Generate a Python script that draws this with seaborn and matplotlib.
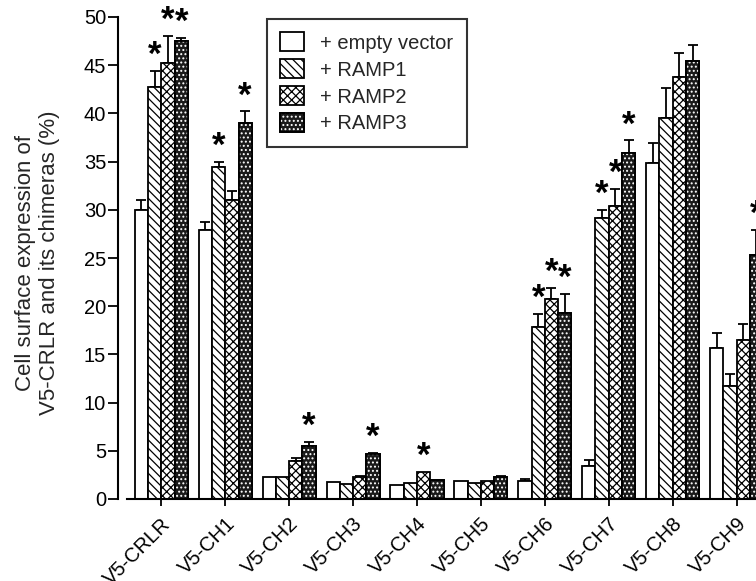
import numpy as np
import pandas as pd
import matplotlib
matplotlib.use("Agg")
import matplotlib.pyplot as plt
from matplotlib.patches import Patch, Rectangle
from matplotlib.legend_handler import HandlerTuple
import seaborn as sns

categories = ["V5-CRLR", "V5-CH1", "V5-CH2", "V5-CH3", "V5-CH4",
              "V5-CH5", "V5-CH6", "V5-CH7", "V5-CH8", "V5-CH9"]
series = ["+ empty vector", "+ RAMP1", "+ RAMP2", "+ RAMP3"]

empty_vals = [30.0, 27.9, 2.3, 1.8, 1.45, 1.9, 1.9, 3.4, 34.9, 15.7]
empty_err = [1.0, 0.8, 0.0, 0.0, 0.0, 0.0, 0.15, 0.6, 2.0, 1.55]
ramp1_vals = [42.7, 34.4, 2.3, 1.6, 1.7, 1.7, 17.8, 29.2, 39.5, 11.7]
ramp1_err = [1.7, 0.6, 0.0, 0.0, 0.0, 0.0, 1.4, 0.8, 3.1, 1.3]
ramp2_vals = [45.2, 31.0, 3.9, 2.3, 2.8, 1.9, 20.7, 30.4, 43.8, 16.5]
ramp2_err = [2.8, 1.0, 0.35, 0.1, 0.0, 0.0, 1.2, 1.8, 2.5, 1.7]
ramp3_vals = [47.5, 39.0, 5.5, 4.7, 2.0, 2.3, 19.3, 35.9, 45.4, 25.3]
ramp3_err = [0.3, 1.2, 0.4, 0.1, 0.0, 0.1, 2.0, 1.3, 1.7, 2.6]

# significance marks (1 = asterisk)
empty_sig = [0, 0, 0, 0, 0, 0, 0, 0, 0, 0]
ramp1_sig = [1, 1, 0, 0, 0, 0, 1, 1, 0, 0]
ramp2_sig = [1, 0, 0, 0, 1, 0, 1, 1, 0, 0]
ramp3_sig = [1, 1, 1, 1, 0, 0, 1, 1, 0, 1]

yticks = [0, 5, 10, 15, 20, 25, 30, 35, 40, 45, 50]

vals = [empty_vals, ramp1_vals, ramp2_vals, ramp3_vals]
errs = [empty_err, ramp1_err, ramp2_err, ramp3_err]
sigs = [empty_sig, ramp1_sig, ramp2_sig, ramp3_sig]

df = pd.DataFrame({
    "cat": np.repeat([categories], len(series), axis=0).ravel(),
    "series": np.repeat(series, len(categories)),
    "value": np.concatenate(vals),
})

sns.set_theme(style="ticks")
plt.rcParams["font.family"] = ["Liberation Sans", "DejaVu Sans"]
plt.rcParams["hatch.linewidth"] = 0.9

W, H = 756, 581
fig = plt.figure(figsize=(W / 100, H / 100), dpi=100)
fig.patch.set_facecolor("white")
ax = fig.add_axes([118 / W, (H - 499) / H, (W - 118) / W, (499 - 17) / H])

faces = {"+ empty vector": "white", "+ RAMP1": "white",
         "+ RAMP2": "white", "+ RAMP3": "#1a1a1a"}
sns.barplot(data=df, x="cat", y="value", hue="series", order=categories,
            hue_order=series, palette=faces, saturation=1, width=0.83,
            errorbar=None, legend=False, edgecolor="black", linewidth=1.3,
            ax=ax)

bar_conts = list(ax.containers)
hatches = [None, "\\\\\\\\", "xxxx", None]
for i, cont in enumerate(bar_conts):
    for p in cont.patches:
        if hatches[i]:
            p.set_hatch(hatches[i])
        p.set_zorder(2)
        if i == 3:
            ov = Rectangle(p.get_xy(), p.get_width(), p.get_height(),
                           facecolor="none", edgecolor="white", lw=0,
                           hatch="....", zorder=2.5)
            ax.add_patch(ov)
            bd = Rectangle(p.get_xy(), p.get_width(), p.get_height(),
                           facecolor="none", edgecolor="black", lw=1.3,
                           zorder=2.6)
            ax.add_patch(bd)

# error bars (upper only) and asterisks
for i, cont in enumerate(bar_conts):
    xs = np.array([p.get_x() + p.get_width() / 2 for p in cont.patches])
    ys = np.array(vals[i])
    e = np.array(errs[i])
    m = e > 0
    ax.errorbar(xs[m], ys[m], yerr=[np.zeros(m.sum()), e[m]], fmt="none",
                ecolor="black", elinewidth=1.3, capsize=3.5, capthick=1.3,
                zorder=1.5)
    for x, y, er, s in zip(xs, ys, e, sigs[i]):
        if s:
            ax.text(x, y + er + 1.6, "*", ha="center", va="center",
                    fontsize=25, fontweight="bold", color="black",
                    clip_on=False, zorder=3)

ax.set_xlim(-0.678, 9.304)
ax.set_ylim(0, 50)
ax.set_yticks(yticks)
ax.set_yticklabels([str(t) for t in yticks], fontsize=14.5)
ax.set_xticks(range(len(categories)))
ax.set_xticklabels(categories, fontsize=14.5, rotation=45, ha="right",
                   va="top", rotation_mode="anchor")
ax.tick_params(axis="y", length=7, width=1.3, pad=1.5, colors="black")
ax.tick_params(axis="x", length=5, width=1.3, pad=6, colors="black")
for s in ["top", "right"]:
    ax.spines[s].set_visible(False)
ax.spines["left"].set_linewidth(1.5)
ax.spines["bottom"].set_linewidth(1.5)
ax.spines["bottom"].set_bounds(-0.54, 9.304)
ax.spines["left"].set_color("black")
ax.spines["bottom"].set_color("black")
ax.set_xlabel("")
ax.set_ylabel("Cell surface expression of\nV5-CRLR and its chimeras (%)",
              fontsize=16, linespacing=1.2)
ax.yaxis.set_label_coords(-0.091, 0.49)
ax.set_facecolor("white")

# legend
h_empty = Patch(facecolor="white", edgecolor="black", lw=1.3)
h_r1 = Patch(facecolor="white", edgecolor="black", lw=1.3, hatch="\\\\\\\\")
h_r2 = Patch(facecolor="white", edgecolor="black", lw=1.3, hatch="xxxx")
h_r3 = (Patch(facecolor="#1a1a1a", edgecolor="black", lw=1.3),
        Patch(facecolor="none", edgecolor="white", lw=0, hatch="...."),
        Patch(facecolor="none", edgecolor="black", lw=1.3))
leg = ax.legend([h_empty, h_r1, h_r2, h_r3], series,
                handler_map={tuple: HandlerTuple(ndivide=1, pad=0)},
                loc="upper left", bbox_to_anchor=(267 / W, 1 - 19 / H),
                bbox_transform=fig.transFigure, borderaxespad=0,
                fontsize=14.5, handlelength=1.2, handleheight=1.1,
                labelspacing=0.32, handletextpad=0.8, borderpad=0.65,
                frameon=True, fancybox=False, edgecolor="black")
leg.get_frame().set_linewidth(1.5)

fig.savefig("out.png", dpi=100, facecolor="white")
